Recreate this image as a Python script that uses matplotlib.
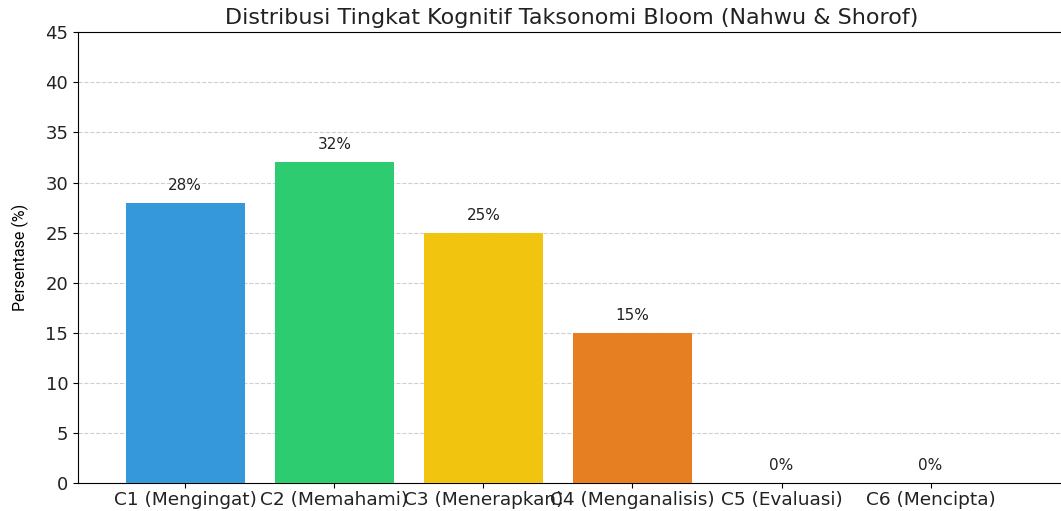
import matplotlib
matplotlib.use('Agg')
import matplotlib.pyplot as plt

plt.rcParams['font.family'] = ['DejaVu Sans']

categories = ['C1 (Mengingat)', 'C2 (Memahami)', 'C3 (Menerapkan)',
              'C4 (Menganalisis)', 'C5 (Evaluasi)', 'C6 (Mencipta)']
percentages = [28, 32, 25, 15, 0, 0]
colors = ['#3498db', '#2ecc71', '#f1c40f', '#e67e22', '#9b59b6', '#e74c3c']

fig = plt.figure(figsize=(10.61, 5.11), dpi=100)
ax = fig.add_axes([0.0735, 0.0548, 0.93, 0.882])

x = list(range(len(categories)))
bars = ax.bar(x, percentages, color=colors, width=0.8, zorder=3)

# percentage labels above each bar
for xi, v in zip(x, percentages):
    ax.text(xi, v + 1, f'{v}%', ha='center', va='bottom', fontsize=11, color='#222222')

ax.set_xticks(x)
ax.set_xticklabels(categories, fontsize=13.3, color='#222222')
ax.set_xlim(-0.72, 5.9)
ax.set_ylim(0, 45)
ax.set_yticks(range(0, 46, 5))
ax.tick_params(axis='y', labelsize=13, labelcolor='#222222')
ax.tick_params(axis='x', pad=2)
ax.set_ylabel('Persentase (%)', fontsize=11.5, family=['Roboto', 'DejaVu Sans'])
ax.yaxis.set_label_coords(-0.05, 0.5)
ax.set_title('Distribusi Tingkat Kognitif Taksonomi Bloom (Nahwu & Shorof)',
             fontsize=16, pad=6, color='#222222')
ax.grid(axis='y', linestyle='--', alpha=0.6, zorder=0)
ax.spines['right'].set_visible(False)

fig.savefig('out.png', dpi=100)
